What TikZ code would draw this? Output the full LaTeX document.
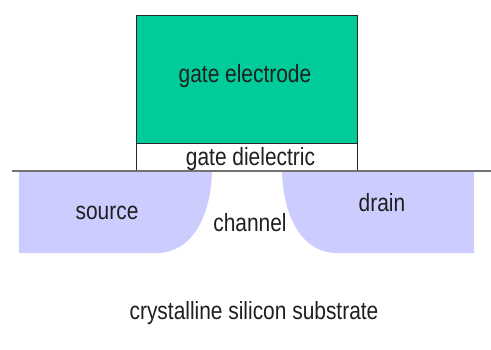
\documentclass[tikz,border=0pt]{standalone}
\usepackage{fontspec}
\setmainfont[FakeStretch=0.84]{Liberation Sans}
\definecolor{gatec}{RGB}{0,204,153}
\definecolor{sdc}{RGB}{204,204,255}
\tikzset{lbl/.style={inner sep=0pt,font=\fontsize{25}{27}\selectfont,text=black!88},
  outl/.style={draw=black!85,line width=0.9pt}}
\newcommand{\PX}[2]{({#1*0.0352778},{(349-#2)*0.0352778})}
\begin{document}
\begin{tikzpicture}[x=1cm,y=1cm]
\useasboundingbox (0,0) rectangle (491*0.0352778,349*0.0352778);
\fill[sdc] \PX{19}{171} -- \PX{212}{171} .. controls \PX{211}{215} and \PX{193}{253} .. \PX{156}{253} -- \PX{19}{253} -- cycle;
\fill[sdc] \PX{474}{171} -- \PX{282}{171} .. controls \PX{283}{215} and \PX{301}{253} .. \PX{337}{253} -- \PX{474}{253} -- cycle;
\draw[outl,fill=gatec] \PX{136}{15} rectangle \PX{357}{143};
\draw[outl,fill=white] \PX{136}{143} rectangle \PX{357}{171};
\draw[black!55,line width=1.3pt] \PX{12}{171} -- \PX{491}{171};
\node[lbl] (g) at \PX{245}{76} {gate electrode};
\node[lbl] (d) at \PX{250.5}{159.5} {gate dielectric};
\node[lbl] (s) at \PX{107}{213} {source};
\node[lbl] (r) at \PX{382}{203} {drain};
\node[lbl] (c) at \PX{250}{222.5} {channel};
\node[lbl] (u) at \PX{254}{313} {crystalline silicon substrate};
\end{tikzpicture}
\end{document}
